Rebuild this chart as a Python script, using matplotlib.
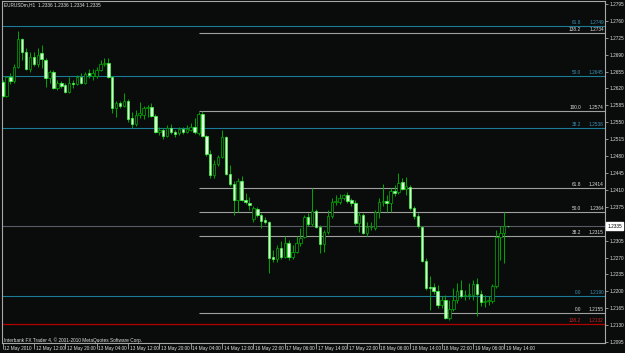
import matplotlib.pyplot as plt
import matplotlib.transforms as mtransforms

# -------------------------------
# 1. Data (EURUSDm, H1)
# -------------------------------
opens = [
    1.2633, 1.2605, 1.2644, 1.2636, 1.2665, 1.2723, 1.2696, 1.2660, 1.2685, 1.2671,
    1.2694, 1.2679, 1.2642, 1.2654, 1.2621, 1.2631, 1.2627, 1.2613, 1.2631, 1.2629,
    1.2644, 1.2631, 1.2652, 1.2646, 1.2646, 1.2658, 1.2671, 1.2673, 1.2644, 1.2580,
    1.2590, 1.2584, 1.2594, 1.2559, 1.2547, 1.2565, 1.2565, 1.2580, 1.2582, 1.2563,
    1.2530, 1.2534, 1.2522, 1.2538, 1.2530, 1.2528, 1.2536, 1.2530, 1.2534, 1.2540,
    1.2528, 1.2567, 1.2522, 1.2484, 1.2441, 1.2464, 1.2478, 1.2520, 1.2443, 1.2422,
    1.2389, 1.2428, 1.2389, 1.2383, 1.2350, 1.2370, 1.2358, 1.2348, 1.2344, 1.2271,
    1.2267, 1.2290, 1.2271, 1.2300, 1.2271, 1.2281, 1.2300, 1.2313, 1.2354, 1.2340,
    1.2366, 1.2333, 1.2298, 1.2323, 1.2356, 1.2385, 1.2385, 1.2393, 1.2399, 1.2389,
    1.2383, 1.2342, 1.2358, 1.2321, 1.2333, 1.2331, 1.2364, 1.2385, 1.2387, 1.2383,
    1.2408, 1.2406, 1.2426, 1.2412, 1.2416, 1.2373, 1.2356, 1.2333, 1.2263, 1.2209,
    1.2209, 1.2201, 1.2172, 1.2182, 1.2145, 1.2164, 1.2182, 1.2203, 1.2190, 1.2192,
    1.2192, 1.2215, 1.2194, 1.2178, 1.2180, 1.2180, 1.2211, 1.2313, 1.2321, 1.2336,
]
highs = [
    1.2638, 1.2646, 1.2652, 1.2671, 1.2739, 1.2725, 1.2704, 1.2696, 1.2696, 1.2704,
    1.2710, 1.2683, 1.2658, 1.2658, 1.2638, 1.2636, 1.2631, 1.2644, 1.2638, 1.2648,
    1.2652, 1.2654, 1.2660, 1.2660, 1.2665, 1.2679, 1.2683, 1.2683, 1.2646, 1.2594,
    1.2594, 1.2611, 1.2598, 1.2571, 1.2576, 1.2592, 1.2584, 1.2586, 1.2590, 1.2567,
    1.2540, 1.2538, 1.2544, 1.2547, 1.2534, 1.2540, 1.2540, 1.2544, 1.2549, 1.2559,
    1.2571, 1.2574, 1.2524, 1.2493, 1.2472, 1.2482, 1.2534, 1.2522, 1.2462, 1.2428,
    1.2435, 1.2439, 1.2404, 1.2395, 1.2377, 1.2375, 1.2362, 1.2354, 1.2346, 1.2286,
    1.2296, 1.2304, 1.2315, 1.2306, 1.2296, 1.2315, 1.2331, 1.2358, 1.2362, 1.2414,
    1.2370, 1.2337, 1.2327, 1.2368, 1.2393, 1.2399, 1.2401, 1.2401, 1.2406, 1.2393,
    1.2389, 1.2364, 1.2362, 1.2344, 1.2344, 1.2368, 1.2393, 1.2422, 1.2399, 1.2414,
    1.2420, 1.2445, 1.2435, 1.2437, 1.2420, 1.2377, 1.2362, 1.2335, 1.2269, 1.2232,
    1.2217, 1.2213, 1.2190, 1.2192, 1.2182, 1.2207, 1.2217, 1.2223, 1.2203, 1.2217,
    1.2223, 1.2228, 1.2203, 1.2192, 1.2190, 1.2215, 1.2327, 1.2335, 1.2364, 1.2336,
]
lows = [
    1.2602, 1.2602, 1.2629, 1.2631, 1.2662, 1.2679, 1.2658, 1.2654, 1.2667, 1.2665,
    1.2662, 1.2623, 1.2631, 1.2619, 1.2617, 1.2621, 1.2611, 1.2611, 1.2621, 1.2627,
    1.2629, 1.2629, 1.2642, 1.2638, 1.2642, 1.2656, 1.2667, 1.2642, 1.2569, 1.2561,
    1.2580, 1.2582, 1.2551, 1.2538, 1.2542, 1.2559, 1.2557, 1.2561, 1.2561, 1.2528,
    1.2524, 1.2515, 1.2520, 1.2526, 1.2520, 1.2524, 1.2526, 1.2528, 1.2532, 1.2526,
    1.2524, 1.2520, 1.2480, 1.2435, 1.2435, 1.2460, 1.2476, 1.2441, 1.2418, 1.2358,
    1.2364, 1.2387, 1.2381, 1.2368, 1.2344, 1.2354, 1.2331, 1.2340, 1.2238, 1.2261,
    1.2261, 1.2267, 1.2269, 1.2265, 1.2267, 1.2279, 1.2294, 1.2311, 1.2335, 1.2335,
    1.2331, 1.2279, 1.2281, 1.2319, 1.2352, 1.2379, 1.2381, 1.2389, 1.2383, 1.2377,
    1.2337, 1.2323, 1.2319, 1.2315, 1.2327, 1.2327, 1.2352, 1.2377, 1.2364, 1.2364,
    1.2397, 1.2401, 1.2410, 1.2399, 1.2368, 1.2350, 1.2331, 1.2261, 1.2203, 1.2161,
    1.2194, 1.2166, 1.2166, 1.2143, 1.2141, 1.2159, 1.2176, 1.2186, 1.2182, 1.2184,
    1.2182, 1.2149, 1.2170, 1.2168, 1.2172, 1.2176, 1.2207, 1.2265, 1.2259, 1.2334,
]
closes = [
    1.2605, 1.2644, 1.2636, 1.2665, 1.2723, 1.2696, 1.2660, 1.2685, 1.2671, 1.2689,
    1.2681, 1.2642, 1.2654, 1.2621, 1.2631, 1.2625, 1.2613, 1.2631, 1.2629, 1.2644,
    1.2631, 1.2650, 1.2648, 1.2652, 1.2658, 1.2671, 1.2673, 1.2644, 1.2580, 1.2590,
    1.2584, 1.2594, 1.2557, 1.2547, 1.2565, 1.2569, 1.2580, 1.2582, 1.2563, 1.2530,
    1.2534, 1.2522, 1.2538, 1.2530, 1.2526, 1.2536, 1.2530, 1.2536, 1.2540, 1.2530,
    1.2567, 1.2522, 1.2484, 1.2441, 1.2464, 1.2478, 1.2520, 1.2443, 1.2422, 1.2389,
    1.2428, 1.2389, 1.2385, 1.2379, 1.2373, 1.2358, 1.2346, 1.2344, 1.2269, 1.2267,
    1.2290, 1.2271, 1.2300, 1.2271, 1.2281, 1.2300, 1.2311, 1.2354, 1.2340, 1.2366,
    1.2333, 1.2298, 1.2323, 1.2356, 1.2385, 1.2387, 1.2393, 1.2399, 1.2387, 1.2383,
    1.2342, 1.2358, 1.2321, 1.2333, 1.2335, 1.2364, 1.2385, 1.2387, 1.2383, 1.2408,
    1.2404, 1.2424, 1.2412, 1.2418, 1.2373, 1.2356, 1.2335, 1.2263, 1.2207, 1.2206,
    1.2201, 1.2172, 1.2182, 1.2145, 1.2164, 1.2182, 1.2201, 1.2190, 1.2192, 1.2194,
    1.2215, 1.2194, 1.2178, 1.2180, 1.2182, 1.2211, 1.2313, 1.2321, 1.2335, 1.2335,
]

time_labels = [
    "12 May 2010", "12 May 12:00", "12 May 20:00", "13 May 04:00", "13 May 12:00",
    "13 May 20:00", "14 May 04:00", "14 May 12:00", "16 May 22:00", "17 May 06:00",
    "17 May 14:00", "17 May 22:00", "18 May 06:00", "18 May 14:00", "18 May 22:00",
    "19 May 06:00", "19 May 14:00",
]
price_ticks = [
    1.2095, 1.2130, 1.2165, 1.2200, 1.2235, 1.2270, 1.2305, 1.2340, 1.2375, 1.2410,
    1.2445, 1.2480, 1.2515, 1.2550, 1.2585, 1.2620, 1.2655, 1.2690, 1.2725, 1.2760,
    1.2795,
]

# Fibonacci levels
blue_levels = ["61.8", "50.0", "38.2", "0.0"]
blue_prices = [1.2749, 1.2645, 1.2538, 1.2190]
gray_levels = ["138.2", "100.0", "61.8", "50.0", "38.2", "0.0"]
gray_prices = [1.2734, 1.2574, 1.2414, 1.2364, 1.2315, 1.2155]
red_level = "138.2"
red_price = 1.2132
gray_start_bar = 50

bid = 1.2335
title = "EURUSDm,H1  1.2336 1.2336 1.2334 1.2335"
footer = "Interbank FX Trader 4, \u00a9 2001-2010 MetaQuotes Software Corp."

# -------------------------------
# 2. Styling
# -------------------------------
BG = "#0a0b0b"
FRAME = "#a8a8a8"
TXT = "#e0e0e0"
BLUE = "#1c7c98"
BLUE_TXT = "#3a95b8"
GRAY = "#a0a0a0"
RED = "#b00000"
WICK = "#00a800"
BULL_EDGE = "#00b000"
BEAR_FACE = "#dcffdc"
BEAR_EDGE = "#3cff3c"
FS = 3.4

plt.rcParams["font.family"] = ["Liberation Sans", "DejaVu Sans"]

fig = plt.figure(figsize=(6.25, 3.53), dpi=100, facecolor=BG)
ax = fig.add_axes([2 / 625, 10 / 353, 603 / 625, 342 / 353], facecolor=BG)

n = len(closes)
xs = list(range(n))
x_right = 153.7

# blue fib (full width)
for lvl, p in zip(blue_levels, blue_prices):
    ax.axhline(p, color=BLUE, lw=0.8, zorder=1)
    ax.text(147.6, p + 0.0002, lvl, color=BLUE_TXT, fontsize=FS, ha="right", va="bottom")
    ax.text(153.4, p + 0.0002, f"{p:.4f}", color=BLUE_TXT, fontsize=FS, ha="right", va="bottom")

# gray fib (from the swing high bar)
for lvl, p in zip(gray_levels, gray_prices):
    ax.hlines(p, gray_start_bar, x_right, color=GRAY, lw=0.8, zorder=1)
    ax.text(147.6, p + 0.0002, lvl, color=TXT, fontsize=FS, ha="right", va="bottom")
    ax.text(153.4, p + 0.0002, f"{p:.4f}", color=TXT, fontsize=FS, ha="right", va="bottom")

ax.axhline(red_price, color=RED, lw=0.9, zorder=1)
ax.text(147.6, red_price + 0.0002, red_level, color="#d02020", fontsize=FS, ha="right", va="bottom")
ax.text(153.4, red_price + 0.0002, f"{red_price:.4f}", color="#d02020", fontsize=FS, ha="right", va="bottom")

# bid line
ax.axhline(bid, color="#5a5a66", lw=0.8, zorder=1)

# candles
ax.vlines(xs, lows, highs, color=WICK, lw=0.7, zorder=2)
for i in xs:
    o, c = opens[i], closes[i]
    bottom = min(o, c)
    height = max(abs(c - o), 0.00006)
    if c >= o:
        ax.bar(i, height, 0.62, bottom, facecolor=BG, edgecolor=BULL_EDGE, lw=0.5, zorder=3)
    else:
        ax.bar(i, height, 0.62, bottom, facecolor=BEAR_FACE, edgecolor=BEAR_EDGE, lw=0.5, zorder=3)

ax.set_xlim(-0.13, x_right)
ax.set_ylim(1.2093, 1.2801)

# axes look
for s in ax.spines.values():
    s.set_color(FRAME)
    s.set_linewidth(0.8)

# the bid box covers the nearest price label
ax.yaxis.tick_right()
ax.set_yticks(price_ticks)
ax.set_yticklabels(["" if abs(p - bid) < 0.001 else f"{p:.4f}" for p in price_ticks])
ax.tick_params(axis="y", colors=FRAME, labelcolor=TXT, labelsize=FS, length=2, width=0.6, pad=1.2)

ax.set_xticks(list(range(0, 8 * len(time_labels), 8)))
ax.set_xticklabels(time_labels, ha="left")
ax.tick_params(axis="x", colors=FRAME, labelcolor=TXT, labelsize=FS, length=4.5, width=0.6, pad=-2.0)
for lab in ax.get_xticklabels():
    lab.set_transform(lab.get_transform() + mtransforms.ScaledTranslation(1.2 / 72, 0, fig.dpi_scale_trans))

# current price box
ax.annotate(f"{bid:.4f}", xy=(1.0, bid), xycoords=("axes fraction", "data"),
            xytext=(1.6, 0), textcoords="offset points", ha="left", va="center",
            fontsize=FS, color="black",
            bbox=dict(boxstyle="square,pad=0.25", fc="white", ec="white"))

fig.text(4 / 625, 1 - 5 / 353, title, color=TXT, fontsize=FS, ha="left", va="center")
fig.text(4 / 625, 1 - 340 / 353, footer, color=TXT, fontsize=FS, ha="left", va="center")

fig.savefig("out.png", dpi=100, facecolor=BG)
